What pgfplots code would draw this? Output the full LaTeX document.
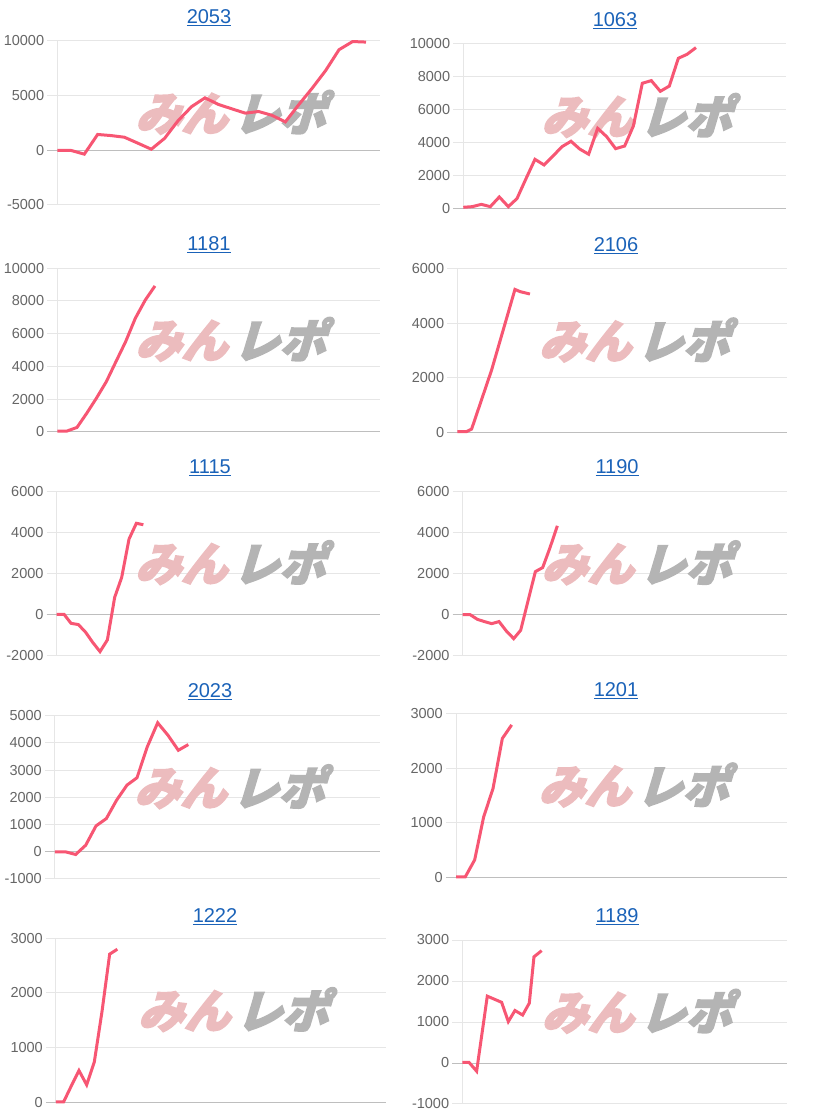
\documentclass[border=0pt]{standalone}
\usepackage{fontspec}
\setmainfont{Liberation Sans}
\newfontfamily\wmfont[FakeSlant=0.3,FakeBold=4]{Noto Sans CJK JP}
\usepackage{pgfplots}
\pgfplotsset{compat=1.18}
\definecolor{linecol}{RGB}{247,86,115}
\definecolor{ticktext}{RGB}{102,102,102}
\definecolor{gridcol}{RGB}{230,230,230}
\definecolor{zerocol}{RGB}{190,190,190}
\definecolor{titlecol}{RGB}{26,98,184}
\definecolor{wmpink}{RGB}{236,188,190}
\definecolor{wmgray}{RGB}{180,180,180}
\pgfplotsset{
  panel/.style={
    scale only axis, anchor=south west, clip=false,
    scaled y ticks=false,
    axis line style={draw=none},
    major tick length=0pt,
    xmin=-30,
    xtick=\empty,
    extra x ticks={0}, extra x tick labels={},
    extra x tick style={grid=major, major grid style={gridcol, line width=1pt}},
    ymajorgrids,
    major grid style={gridcol, line width=1pt},
    extra y ticks={0}, extra y tick labels={},
    extra y tick style={major grid style={zerocol, line width=1pt}},
    yticklabel style={font=\fontsize{14.5}{16}\selectfont, text=ticktext, anchor=east, inner xsep=0pt, xshift=-3pt},
  },
  ser/.style={linecol, line width=3pt, no markers, line join=miter},
}
\newcommand{\wm}{\node[anchor=center, inner sep=0pt] at (rel axis cs:0.55,0.565)
  {\wmfont\bfseries\fontsize{46}{46}\selectfont\textcolor{wmpink}{みん}\hspace{6pt}\textcolor{wmgray}{レポ}};}
\newcommand{\ttl}[3]{\node[font=\fontsize{20}{22}\selectfont, text=titlecol, inner sep=0pt] at (#1pt,#2pt) {\underline{#3}};}
\begin{document}
\begin{tikzpicture}
\path[use as bounding box] (0pt,0pt) rectangle (812pt,1120pt);

% Row 1 left: 2053
\begin{axis}[panel, at={(47.3pt,915pt)}, width=332.7pt, height=164pt,
  xmax=968, ymin=-5000, ymax=10000, ytick={-5000,0,5000,10000}, yticklabels={-5000,0,5000,10000}]
\wm
\addplot[ser] coordinates {
(0,0) (40,0) (81,-350) (121,1450) (161,1350) (201,1200) (242,650) (282,100)
(322,1100) (362,2700) (403,4000) (443,4800) (483,4200) (523,3800) (564,3400)
(604,3550) (644,3200) (684,2600) (725,4200) (765,5700) (805,7300) (845,9200)
(886,9950) (926,9900)};
\end{axis}
\ttl{209}{1102}{2053}

% Row 1 right: 1063
\begin{axis}[panel, at={(453.3pt,911.7pt)}, width=332.7pt, height=164.3pt,
  xmax=968, ymin=0, ymax=10000, ytick={0,2000,4000,6000,8000,10000}, yticklabels={0,2000,4000,6000,8000,10000}]
\wm
\addplot[ser] coordinates {
(0,60) (27,100) (54,240) (81,100) (108,690) (135,100) (161,590) (188,1800)
(215,2980) (242,2640) (269,3180) (296,3750) (323,4080) (349,3610) (376,3290)
(403,4870) (430,4360) (457,3630) (484,3790) (510,5000) (537,7610) (564,7770)
(591,7120) (618,7440) (645,9130) (671,9370) (698,9780)};
\end{axis}
\ttl{615}{1099}{1063}

% Row 2 left: 1181
\begin{axis}[panel, at={(47.3pt,688.3pt)}, width=332.7pt, height=163.4pt,
  xmax=968, ymin=0, ymax=10000, ytick={0,2000,4000,6000,8000,10000}, yticklabels={0,2000,4000,6000,8000,10000}]
\wm
\addplot[ser] coordinates {
(0,40) (29,40) (59,260) (88,1120) (117,2040) (147,3060) (176,4290) (205,5510)
(234,6940) (264,8060) (293,8920)};
\end{axis}
\ttl{209}{875}{1181}

% Row 2 right: 2106
\begin{axis}[panel, at={(447.3pt,687.7pt)}, width=339.3pt, height=163.3pt,
  xmax=988, ymin=0, ymax=6000, ytick={0,2000,4000,6000}, yticklabels={0,2000,4000,6000}]
\wm
\addplot[ser] coordinates {
(0,25) (28,25) (43,120) (103,2290) (173,5250) (188,5170) (218,5080)};
\end{axis}
\ttl{616}{874}{2106}

% Row 3 left: 1115
\begin{axis}[panel, at={(46.7pt,464.7pt)}, width=333.3pt, height=164pt,
  xmax=970, ymin=-2000, ymax=6000, ytick={-2000,0,2000,4000,6000}, yticklabels={-2000,0,2000,4000,6000}]
\wm
\addplot[ser] coordinates {
(0,0) (22,0) (43,-440) (65,-500) (87,-880) (108,-1370) (130,-1820) (152,-1250)
(174,830) (195,1800) (217,3670) (239,4440) (260,4370)};
\end{axis}
\ttl{210}{652}{1115}

% Row 3 right: 1190
\begin{axis}[panel, at={(452.7pt,464.3pt)}, width=334pt, height=164.4pt,
  xmax=972, ymin=-2000, ymax=6000, ytick={-2000,0,2000,4000,6000}, yticklabels={-2000,0,2000,4000,6000}]
\wm
\addplot[ser] coordinates {
(0,0) (22,0) (44,-230) (65,-340) (87,-440) (109,-340) (131,-800) (153,-1170)
(174,-760) (196,670) (218,2090) (240,2290) (262,3260) (284,4320)};
\end{axis}
\ttl{617}{652}{1190}

% Row 4 left: 2023
\begin{axis}[panel, at={(45pt,241pt)}, width=335pt, height=163.3pt,
  xmax=975, ymin=-1000, ymax=5000, ytick={-1000,0,1000,2000,3000,4000,5000}, yticklabels={-1000,0,1000,2000,3000,4000,5000}]
\wm
\addplot[ser] coordinates {
(0,0) (31,0) (62,-100) (92,240) (123,950) (154,1220) (185,1900) (216,2450)
(246,2720) (277,3860) (308,4740) (339,4280) (370,3730) (400,3940)};
\end{axis}
\ttl{210}{428}{2023}

% Row 4 right: 1201
\begin{axis}[panel, at={(446pt,242.7pt)}, width=340.7pt, height=163.3pt,
  xmax=992, ymin=0, ymax=3000, ytick={0,1000,2000,3000}, yticklabels={0,1000,2000,3000}]
\wm
\addplot[ser] coordinates {
(0,10) (28,10) (56,320) (83,1110) (111,1630) (139,2550) (167,2800)};
\end{axis}
\ttl{616}{429}{1201}

% Row 5 left: 1222
\begin{axis}[panel, at={(46pt,17.7pt)}, width=340pt, height=164pt,
  xmax=990, ymin=0, ymax=3000, ytick={0,1000,2000,3000}, yticklabels={0,1000,2000,3000}]
\wm
\addplot[ser] coordinates {
(0,10) (23,10) (46,300) (69,580) (92,320) (115,740) (138,1660) (161,2710) (184,2800)};
\end{axis}
\ttl{215}{203}{1222}

% Row 5 right: 1189
\begin{axis}[panel, at={(452.3pt,16pt)}, width=335pt, height=164pt,
  xmax=975, ymin=-1000, ymax=3000, ytick={-1000,0,1000,2000,3000}, yticklabels={-1000,0,1000,2000,3000}]
\wm
\addplot[ser] coordinates {
(0,16) (20,16) (43,-200) (75,1630) (118,1480) (138,1010) (158,1280) (181,1170)
(201,1460) (215,2590) (238,2740)};
\end{axis}
\ttl{617}{203}{1189}
\end{tikzpicture}
\end{document}
